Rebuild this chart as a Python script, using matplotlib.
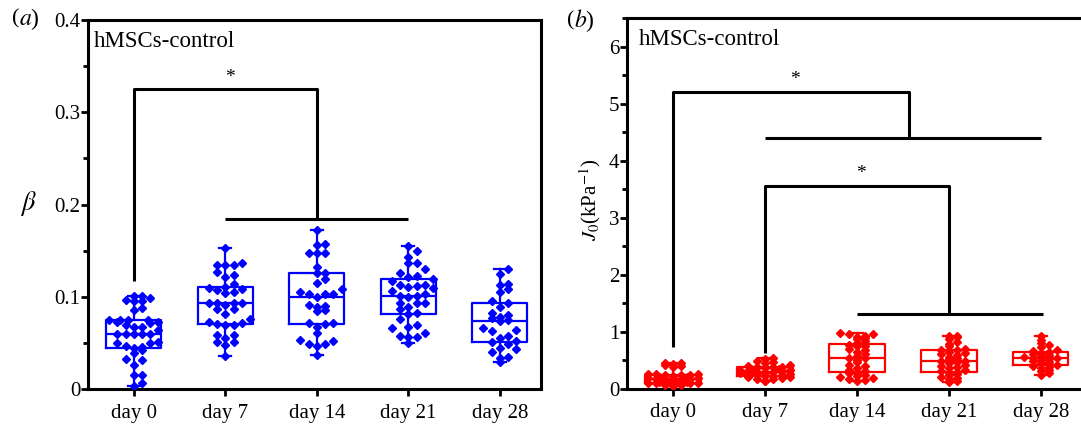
import numpy as np
import matplotlib
matplotlib.use("Agg")
import matplotlib.pyplot as plt
from matplotlib.ticker import MultipleLocator, FormatStrFormatter

plt.rcParams['font.family'] = ['Liberation Serif', 'DejaVu Serif']
plt.rcParams['mathtext.fontset'] = 'stix'

days = ['day 0', 'day 7', 'day 14', 'day 21', 'day 28']

# panel (a): beta values
beta_d0 = [0.101, 0.101, 0.0987, 0.0965, 0.0958, 0.095, 0.0879, 0.0857,
           0.0748, 0.0748, 0.0748, 0.0748, 0.073, 0.073, 0.0712, 0.0698,
           0.0669, 0.0669, 0.064, 0.0597, 0.0597, 0.0597, 0.0597, 0.0597,
           0.0513, 0.0503, 0.0495, 0.0466, 0.0452, 0.0441, 0.042, 0.0394,
           0.0322, 0.0315, 0.026, 0.0152, 0.0152, 0.0062, 0.003]
beta_d7 = [0.1526, 0.1363, 0.1345, 0.1345, 0.1345, 0.1273, 0.1236, 0.1218,
           0.1135, 0.1103, 0.1099, 0.1081, 0.1074, 0.1056, 0.1045, 0.0936,
           0.0936, 0.0929, 0.0929, 0.0911, 0.0864, 0.0864, 0.0813, 0.0759,
           0.073, 0.0712, 0.0705, 0.0694, 0.0694, 0.0586, 0.0586, 0.055,
           0.0513, 0.0513, 0.048, 0.0362]
beta_d14 = [0.1724, 0.1573, 0.1562, 0.1479, 0.1479, 0.1471, 0.132, 0.1262,
            0.1255, 0.119, 0.1153, 0.1081, 0.1056, 0.1027, 0.1027, 0.1027,
            0.0994, 0.0907, 0.09, 0.0886, 0.0857, 0.085, 0.0712, 0.0712,
            0.0705, 0.0676, 0.0611, 0.0531, 0.0524, 0.0488, 0.0488, 0.047,
            0.0369]
beta_d21 = [0.1551, 0.1497, 0.1435, 0.1363, 0.1363, 0.1298, 0.1255, 0.1226,
            0.1211, 0.119, 0.1175, 0.1128, 0.1128, 0.1117, 0.111, 0.1092,
            0.1066, 0.103, 0.1009, 0.1009, 0.0994, 0.0936, 0.0936, 0.0936,
            0.0886, 0.0864, 0.0828, 0.081, 0.0756, 0.0694, 0.0669, 0.0658,
            0.0604, 0.0575, 0.0568, 0.056, 0.0503]
beta_d28 = [0.1302, 0.1247, 0.1139, 0.1128, 0.1081, 0.1048, 0.0958, 0.0929,
            0.0886, 0.0828, 0.0803, 0.0784, 0.0766, 0.0748, 0.0738, 0.0658,
            0.064, 0.0629, 0.0575, 0.0557, 0.0524, 0.0513, 0.0485, 0.0441,
            0.043, 0.0405, 0.035, 0.0333, 0.0296]

# panel (b): J0 values (kPa^-1)
j0_d0 = [0.45, 0.44, 0.43, 0.42, 0.40, 0.38, 0.26, 0.25, 0.25, 0.24, 0.24,
         0.23, 0.22, 0.21, 0.20, 0.19, 0.18, 0.17, 0.16, 0.15, 0.15, 0.14,
         0.13, 0.12, 0.11, 0.10, 0.10, 0.09, 0.09, 0.08, 0.08, 0.07, 0.06,
         0.06, 0.05]
j0_d7 = [0.53, 0.51, 0.49, 0.47, 0.45, 0.42, 0.40, 0.38, 0.37, 0.37, 0.36,
         0.35, 0.34, 0.33, 0.32, 0.31, 0.30, 0.29, 0.29, 0.28, 0.27, 0.27,
         0.26, 0.25, 0.24, 0.23, 0.22, 0.22, 0.21, 0.20, 0.19, 0.17, 0.16,
         0.14, 0.13]
j0_d14 = [0.97, 0.96, 0.95, 0.93, 0.91, 0.88, 0.86, 0.83, 0.80, 0.76, 0.75,
          0.74, 0.70, 0.67, 0.64, 0.60, 0.57, 0.53, 0.53, 0.50, 0.46, 0.42,
          0.39, 0.36, 0.33, 0.30, 0.28, 0.27, 0.24, 0.22, 0.20, 0.18, 0.17,
          0.15, 0.14]
j0_d21 = [0.93, 0.92, 0.90, 0.86, 0.82, 0.78, 0.74, 0.70, 0.68, 0.67, 0.64,
          0.62, 0.60, 0.58, 0.56, 0.53, 0.51, 0.49, 0.48, 0.46, 0.44, 0.42,
          0.40, 0.38, 0.36, 0.33, 0.30, 0.29, 0.28, 0.26, 0.24, 0.21, 0.19,
          0.16, 0.13, 0.12]
j0_d28 = [0.93, 0.85, 0.80, 0.76, 0.72, 0.68, 0.65, 0.64, 0.63, 0.61, 0.59,
          0.57, 0.55, 0.54, 0.53, 0.52, 0.50, 0.48, 0.46, 0.44, 0.41, 0.39,
          0.37, 0.36, 0.33, 0.30, 0.27, 0.24]

beta_groups = [beta_d0, beta_d7, beta_d14, beta_d21, beta_d28]
j0_groups = [j0_d0, j0_d7, j0_d14, j0_d21, j0_d28]


def spread(vals, binsize, step=0.09, maxoff=0.28):
    # lay the points side by side when their values are close
    vals = np.asarray(vals)
    order = np.argsort(vals)
    offs = np.zeros(len(vals))
    bins = np.floor(vals[order] / binsize)
    k = 0
    prev = None
    for idx, b in zip(order, bins):
        k = k + 1 if b == prev else 0
        prev = b
        n = (k + 1) // 2
        sign = 1 if k % 2 else -1
        o = sign * n * step
        while abs(o) > maxoff:
            o = o - np.sign(o) * 2 * maxoff + np.sign(o) * step * 0.5
        offs[idx] = o
    return offs


def draw_panel(ax, groups, color, binsize):
    pos = np.arange(1, len(groups) + 1)
    ax.boxplot(groups, positions=pos, widths=0.6, whis=(0, 100),
               showfliers=False, capwidths=0.13,
               boxprops=dict(color=color, lw=1.6),
               medianprops=dict(color=color, lw=1.6),
               whiskerprops=dict(color=color, lw=1.6),
               capprops=dict(color=color, lw=1.6), zorder=2)
    for p, g in zip(pos, groups):
        ax.plot(p + spread(g, binsize), g, 'D', color=color, ms=4.0,
                mec=color, zorder=3)
    ax.set_xlim(0.5, 5.45)
    ax.set_xticks(pos)
    ax.set_xticklabels(days)
    for s in ax.spines.values():
        s.set_linewidth(2.2)
    ax.tick_params(axis='both', which='major', direction='out', length=5,
                   width=2, labelsize=15, top=False, right=False)
    ax.tick_params(axis='y', which='major', pad=0.5)
    ax.tick_params(axis='x', which='major', length=5, pad=5.5)
    ax.tick_params(axis='y', which='minor', direction='out', length=3.5,
                   width=2, right=False)


def bracket(ax, xs, ys, lw=2.2):
    ax.plot(xs, ys, color='k', lw=lw, solid_capstyle='butt', zorder=1)


fig = plt.figure(figsize=(10.81, 4.24), dpi=100)
ax1 = fig.add_axes([0.0814, 0.0825, 0.4191, 0.8703])
ax2 = fig.add_axes([0.5800, 0.0837, 0.4212, 0.8738])

draw_panel(ax1, beta_groups, '#0000ff', 0.011)
ax1.set_ylim(0, 0.4)
ax1.yaxis.set_minor_locator(MultipleLocator(0.05))
ax1.set_yticks([0, 0.1, 0.2, 0.3, 0.4])
ax1.set_yticklabels(['0', '0.1', '0.2', '0.3', '0.4'])

bracket(ax1, [1, 1, 3, 3], [0.1166, 0.325, 0.325, 0.1845])
bracket(ax1, [2, 4], [0.1845, 0.1845])
ax1.text(2.05, 0.329, '*', ha='center', va='bottom', fontsize=14)
ax1.text(0.012, 0.928, 'hMSCs-control', transform=ax1.transAxes,
         fontsize=16.5, va='baseline', ha='left')
fig.text(28 / 1081, 1 - 204 / 424, r'$\beta$', fontsize=19, ha='center',
         va='center')
fig.text(19 / 1081, 1 - 19 / 424, '(', fontsize=16, ha='right', va='center')
fig.text(19 / 1081, 1 - 19 / 424, r'$a$)', fontsize=17, ha='left',
         va='center')

draw_panel(ax2, j0_groups, '#ff0000', 0.07)
ax2.set_ylim(0, 6.5)
ax2.yaxis.set_major_locator(MultipleLocator(1))
ax2.yaxis.set_minor_locator(MultipleLocator(0.5))
ax2.yaxis.set_major_formatter(FormatStrFormatter('%d'))

bracket(ax2, [1, 1, 3.57, 3.57], [0.72, 5.21, 5.21, 4.39])
bracket(ax2, [2, 5], [4.39, 4.39])
bracket(ax2, [2, 2, 4, 4], [0.62, 3.56, 3.56, 1.30])
bracket(ax2, [3, 5.02], [1.30, 1.30])
ax2.text(2.33, 5.28, '*', ha='center', va='bottom', fontsize=14)
ax2.text(3.04, 3.63, '*', ha='center', va='bottom', fontsize=14)
ax2.text(0.025, 0.927, 'hMSCs-control', transform=ax2.transAxes,
         fontsize=16.5, va='baseline', ha='left')
fig.text(590 / 1081, 1 - 200 / 424, r'$J_0$(kPa$^{-1}$)', fontsize=15,
         rotation=90, ha='center', va='center')
fig.text(574 / 1081, 1 - 21 / 424, '(', fontsize=16, ha='right', va='center')
fig.text(574 / 1081, 1 - 21 / 424, r'$b$)', fontsize=17, ha='left',
         va='center')

fig.savefig('out.png', dpi=100)
